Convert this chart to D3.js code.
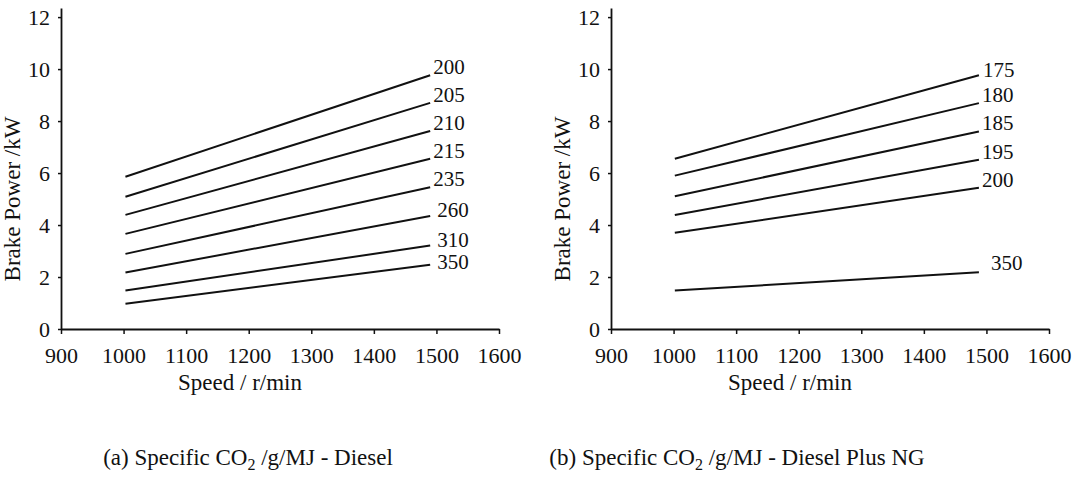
<!DOCTYPE html>
<html>
<head>
<meta charset="utf-8">
<script src="https://cdn.jsdelivr.net/npm/d3@7"></script>
<style>
  body { margin: 0; background: #fff; }
  svg { display: block; }
</style>
</head>
<body>
<div id="chart"></div>
<script>
// values
const xTicks = [900, 1000, 1100, 1200, 1300, 1400, 1500, 1600];
const yTicks = [0, 2, 4, 6, 8, 10, 12];

// (a) diesel: brake power at first / last speed
const speedsA = [1003, 1490];
const labelsA = ["200", "205", "210", "215", "235", "260", "310", "350"];
const startA = [5.86, 5.09, 4.39, 3.66, 2.89, 2.17, 1.48, 0.97];
const endA   = [9.76, 8.70, 7.62, 6.55, 5.45, 4.35, 3.21, 2.47];

// (b) diesel plus NG
const speedsB = [1002, 1488];
const labelsB = ["175", "180", "185", "195", "200", "350"];
const startB = [6.55, 5.90, 5.11, 4.39, 3.70, 1.48];
const endB   = [9.76, 8.69, 7.60, 6.51, 5.43, 2.18];

const FONT = "Liberation Serif";
const INK = "#111";

const svg = d3.select("#chart").append("svg")
    .attr("width", 1081)
    .attr("height", 483)
    .attr("font-family", FONT);

// label nudges (px) where the original label sits away from the line end
const nudgeA = {"260": [7, -2], "310": [7, -2], "350": [7, 1]};
const nudgeB = {"175": [4, -1], "350": [12, -5]};

function panel(left, speeds, labels, starts, ends, nudge){
    const g = svg.append("g").attr("transform", `translate(${left},0)`);
    const x = d3.scaleLinear([900, 1600], [0, 438]);
    const y = d3.scaleLinear([0, 12.35], [329, 8]);

    const xAxis = g.append("g")
        .attr("transform", `translate(0,${y(0)})`)
        .call(d3.axisBottom(x).tickValues(xTicks).tickSize(5).tickSizeOuter(0).tickPadding(13).tickFormat(d3.format("d")));
    const yAxis = g.append("g")
        .call(d3.axisLeft(y).tickValues(yTicks).tickSize(3).tickSizeOuter(0).tickPadding(8));

    [xAxis, yAxis].forEach(a => {
        a.attr("font-family", FONT);
        a.select(".domain").attr("stroke", INK).attr("stroke-width", 1.8);
        a.selectAll(".tick line").attr("stroke", INK).attr("stroke-width", 1.5);
        a.selectAll(".tick text")
            .style("font-family", FONT)
            .style("font-size", "22px")
            .attr("fill", INK);
    });

    const line = d3.line()
        .x(d => x(d[0]))
        .y(d => y(d[1]));

    const rows = labels.map((l, i) => ({label: l, pts: [[speeds[0], starts[i]], [speeds[1], ends[i]]]}));

    g.append("g")
        .selectAll("path")
        .data(rows)
        .join("path")
        .attr("fill", "none")
        .attr("stroke", INK)
        .attr("stroke-width", 2)
        .attr("d", d => line(d.pts));

    g.append("g")
        .selectAll("text")
        .data(rows)
        .join("text")
        .attr("x", d => x(d.pts[1][0]) + (nudge[d.label] ? nudge[d.label][0] : 3))
        .attr("y", d => y(d.pts[1][1]) + 3 + (nudge[d.label] ? nudge[d.label][1] : -4))
        .attr("fill", INK)
        .style("font-family", FONT)
        .style("font-size", "21px")
        .text(d => d.label);

    g.append("text")
        .attr("transform", "translate(-41,199) rotate(-90)")
        .attr("text-anchor", "middle")
        .attr("fill", INK)
        .style("font-family", FONT)
        .style("font-size", "23px")
        .text("Brake Power /kW");

    g.append("text")
        .attr("x", 179)
        .attr("y", 390)
        .attr("text-anchor", "middle")
        .attr("fill", INK)
        .style("font-family", FONT)
        .style("font-size", "23px")
        .text("Speed / r/min");
}

panel(61, speedsA, labelsA, startA, endA, nudgeA);
panel(611, speedsB, labelsB, startB, endB, nudgeB);

function caption(cx, tag, tail){
    const t = svg.append("text")
        .attr("x", cx)
        .attr("y", 465)
        .attr("text-anchor", "middle")
        .attr("fill", INK)
        .style("font-family", FONT)
        .style("font-size", "23px");
    t.append("tspan").text(`(${tag}) Specific CO`);
    t.append("tspan").attr("dy", 5).style("font-size", "16px").text("2");
    t.append("tspan").attr("dy", -5).text(` /g/MJ - ${tail}`);
}
caption(248, "a", "Diesel");
caption(737, "b", "Diesel Plus NG");
</script>
</body>
</html>
